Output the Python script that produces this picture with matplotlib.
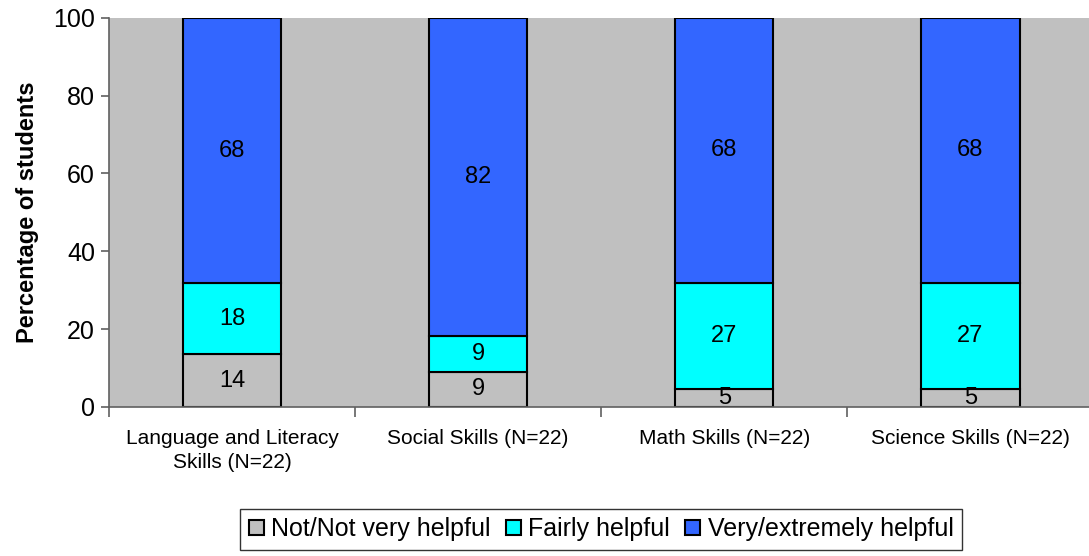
import matplotlib
matplotlib.use("Agg")
import matplotlib.pyplot as plt
import numpy as np

categories = ["Language and Literacy\nSkills (N=22)", "Social Skills (N=22)",
              "Math Skills (N=22)", "Science Skills (N=22)"]
series_names = ["Not/Not very helpful", "Fairly helpful", "Very/extremely helpful"]
not_helpful = [13.6, 9.1, 4.55, 4.55]
fairly_helpful = [18.2, 9.1, 27.3, 27.3]
very_helpful = [68.2, 81.8, 68.2, 68.2]
colors = ["#C0C0C0", "#00FFFF", "#3366FF"]

plt.rcParams['font.family'] = ['Liberation Sans', 'DejaVu Sans']

fig = plt.figure(figsize=(10.89, 5.56), dpi=100)
ax = fig.add_axes([0.1, 0.268, 0.904, 0.7])
ax.set_facecolor("#C0C0C0")

x = np.arange(len(categories))
bottom = np.zeros(len(categories))
handles = []
for vals, name, col in zip([not_helpful, fairly_helpful, very_helpful], series_names, colors):
    vals = np.array(vals)
    b = ax.bar(x, vals, 0.4, bottom=bottom, color=col, edgecolor="black", linewidth=1.5, label=name)
    handles.append(b)
    for xi, v, bt in zip(x, vals, bottom):
        ax.text(xi, bt + v / 2, f"{int(np.floor(v + 0.5)):d}", ha="center", va="center",
                fontsize=17, color="black")
    bottom += vals

ax.set_xlim(-0.5, 3.5)
ax.set_ylim(0, 100)
ax.set_yticks([0, 20, 40, 60, 80, 100])
ax.tick_params(axis="y", labelsize=18, direction="out", length=6, color="#606060", width=1.2, pad=4)
ax.set_xticks(x)
ax.set_xticklabels(categories, fontsize=15, linespacing=1.35)
ax.tick_params(axis="x", length=0, pad=16)
ax.set_xticks(np.arange(-0.5, 3.6, 1.0), minor=True)
ax.tick_params(axis="x", which="minor", length=7, direction="out", color="#606060", width=1.2)
for s in ["top", "right"]:
    ax.spines[s].set_visible(False)
for s in ["left", "bottom"]:
    ax.spines[s].set_color("#606060")
    ax.spines[s].set_linewidth(1.2)
ax.set_ylabel("Percentage of students", fontsize=17, fontweight="bold", labelpad=10)

leg = fig.legend(handles=handles, labels=series_names, loc="center",
                 bbox_to_anchor=(0.552, 0.048), ncol=3, frameon=True, fancybox=False,
                 fontsize=18, handlelength=0.6, handleheight=0.6, handletextpad=0.3,
                 columnspacing=0.6, borderpad=0.35)
leg.get_frame().set_edgecolor("black")
leg.get_frame().set_linewidth(1.0)

fig.savefig("out.png", dpi=100)
